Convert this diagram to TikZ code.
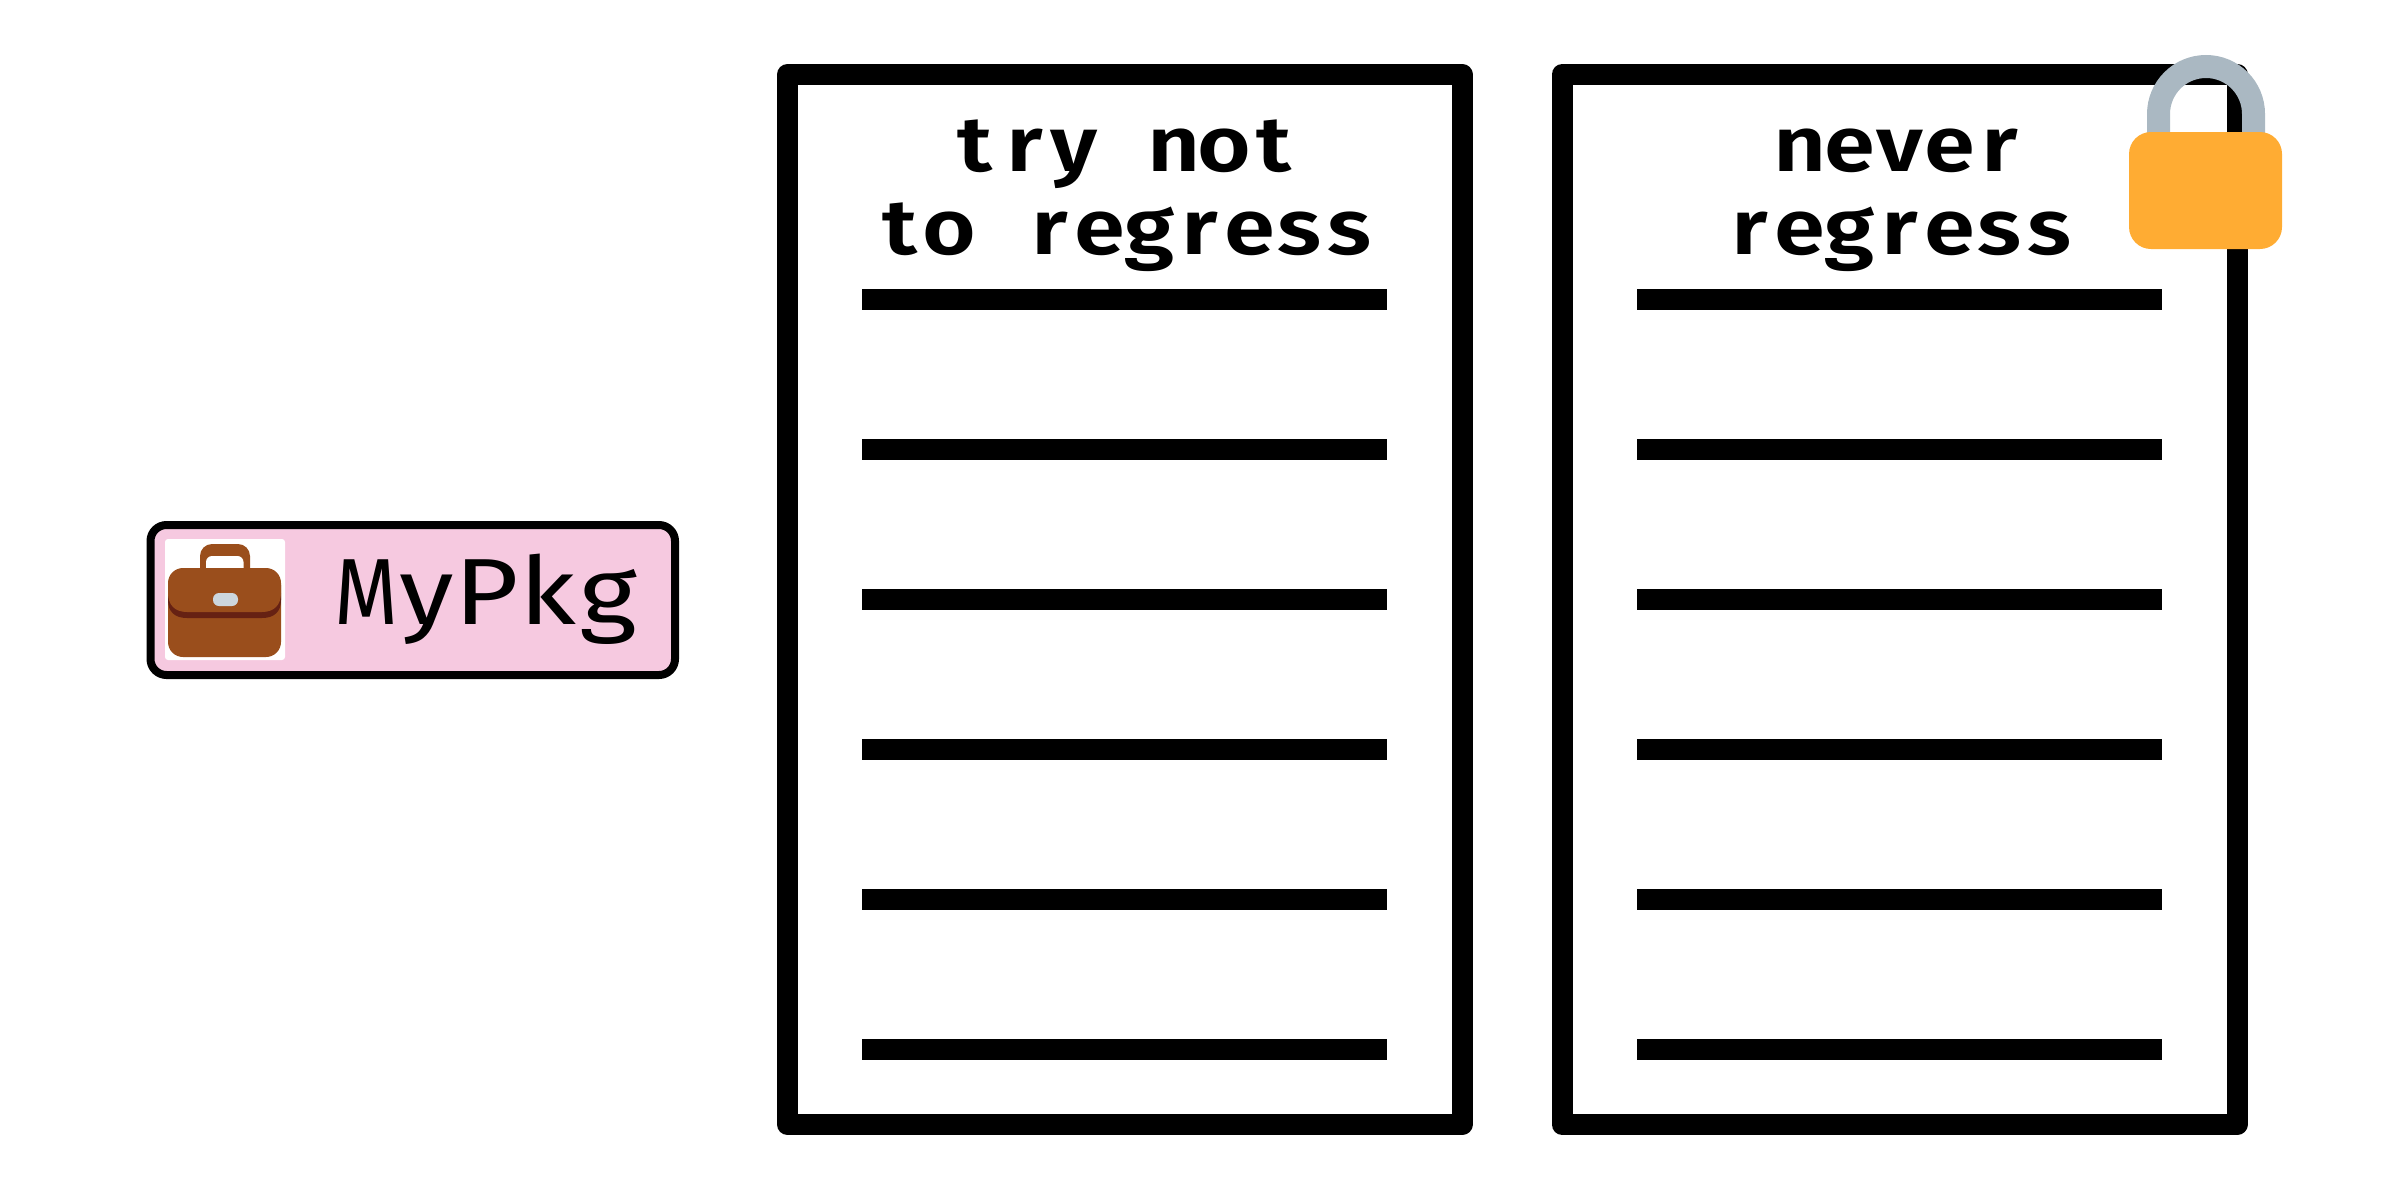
\documentclass[tikz,border=0pt]{standalone}
\usepackage{fontspec}
\newfontfamily\headfont[FakeStretch=1.18]{Fira Sans SemiBold}
\newfontfamily\pkgfont[FakeStretch=1.18]{Fira Sans}
\definecolor{pinkfill}{HTML}{F6C9E0}
\definecolor{casebrown}{HTML}{9A4E1C}
\definecolor{casedark}{HTML}{662113}
\definecolor{clasp}{HTML}{CCD6DD}
\definecolor{lockbody}{HTML}{FFAC33}
\definecolor{shackle}{HTML}{AAB8C2}
% fixed-pitch setting of a word, one letter per cell
\newlength{\cellw}
\def\pitched#1{\pitchloop#1\relax}
\def\pitchloop#1{\ifx#1\relax\else\makebox[\cellw][c]{#1}\expandafter\pitchloop\fi}
\tikzset{
  panel/.style={draw=black,line width=21pt,line join=round},
  rowline/.style={draw=black,line width=21pt},
  heading/.style={inner sep=0pt,anchor=base,align=center,font=\headfont\fontsize{78}{83}\selectfont\setlength{\cellw}{50pt}},
  pkglabel/.style={inner sep=0pt,anchor=base,font=\pkgfont\fontsize{94}{100}\selectfont\setlength{\cellw}{60.5pt}},
}
\begin{document}
\begin{tikzpicture}[x=1pt,y=-1pt]
\useasboundingbox (0,0) rectangle (2400,1200);
% panels
\draw[panel] (787.5,74.5) rectangle (1462,1124.5);
\draw[panel] (1562,74.5) rectangle (2237,1124.5);
% rows
\foreach \y in {299.5,449.5,599.5,749.5,899.5,1049.5}{
  \draw[rowline] (862,\y) -- (1387,\y);
  \draw[rowline] (1637,\y) -- (2162,\y);
}
% headings
\node[heading] (tryhead) at (1124.5,254) {\pitched{try~not}\\\pitched{to~regress}};
\node[heading] (neverhead) at (1900,254) {\pitched{never}\\\pitched{regress}};
% package box
\draw[draw=black,line width=8pt,fill=pinkfill,rounded corners=16pt] (150.5,525) rectangle (675,675);
\fill[white,rounded corners=3pt] (165,539) rectangle (285,660);
% briefcase handle
\fill[casebrown,rounded corners=12pt] (200,590) -- (200,544) -- (250,544) -- (250,590) -- cycle;
\fill[white,rounded corners=6pt] (206,590) -- (206,556) -- (243.5,556) -- (243.5,590) -- cycle;
% briefcase body
\fill[casebrown,rounded corners=15pt] (168,568) rectangle (281,657);
\fill[casedark] (168,600) .. controls (168,612) and (175,618) .. (187,618) -- (262,618) .. controls (274,618) and (281,612) .. (281,600) -- (281,593) -- (168,593) -- cycle;
\fill[casebrown] (168,593) .. controls (168,605) and (175,612) .. (187,612) -- (262,612) .. controls (274,612) and (281,605) .. (281,593) -- (281,585) -- (168,585) -- cycle;
\fill[clasp,rounded corners=6pt] (213,593) rectangle (238,606);
\node[pkglabel] (pkgname) at (487,624) {\pitched{{\scalebox{0.74}[1]{M}}yPkg}};
% padlock
\draw[shackle,line width=23pt] (2158.5,134) -- (2158.5,114) arc[start angle=180,end angle=360,radius=47.5] -- (2253.5,134);
\fill[lockbody,rounded corners=22pt] (2129,132) rectangle (2282,249);
\end{tikzpicture}
\end{document}
